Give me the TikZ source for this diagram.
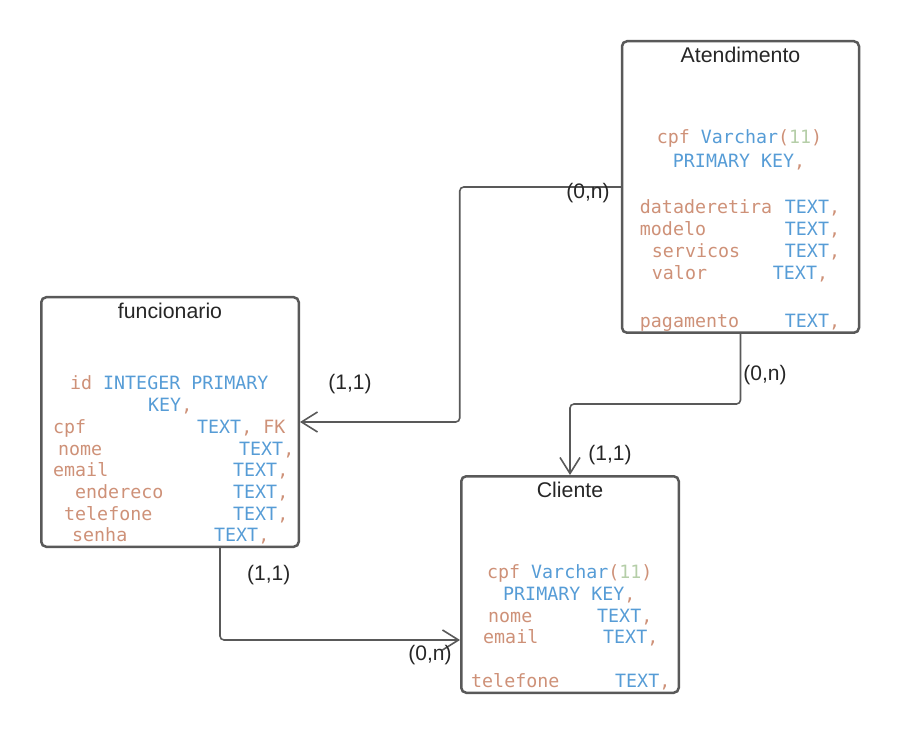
\documentclass[tikz,border=0pt]{standalone}
\usepackage{fontspec}
\setmainfont{Liberation Sans}
\setmonofont{DejaVu Sans Mono}
\usetikzlibrary{arrows.meta,positioning}

\definecolor{borda}{HTML}{595959}
\definecolor{nomecor}{HTML}{CE9178}
\definecolor{tipocor}{HTML}{569CD6}
\definecolor{numcor}{HTML}{B5CEA8}
\definecolor{titulocor}{HTML}{262626}

\newcommand\nm[1]{\textcolor{nomecor}{#1}}
\newcommand\kw[1]{\textcolor{tipocor}{#1}}
\newcommand\nr[1]{\textcolor{numcor}{#1}}
\newcommand\tx{\kw{TEXT}\nm{,}}
\newcommand\campo[4]{\rlap{\hspace*{#1pt}\nm{#2}}\hspace*{#3pt}#4}

\tikzset{
	tabela/.style={draw=borda, line width=2.5pt, rounded corners=5pt},
	titulo/.style={font=\fontsize{21.3}{25}\selectfont, text=titulocor, inner sep=0pt, anchor=base},
	codigo/.style={font=\ttfamily\fontsize{18.3}{22}\selectfont, inner sep=0pt, anchor=base west},
	conector/.style={draw=borda, line width=1.6pt, rounded corners=4pt, -{Straight Barb[length=16pt,width=20pt]}},
	card/.style={font=\fontsize{21}{25}\selectfont, text=titulocor, inner sep=0pt, anchor=base}
}

\begin{document}
\begin{tikzpicture}[x=1pt, y=-1pt]
		\useasboundingbox (0,0) rectangle (900,735);
		\node[tabela, minimum width=237pt, minimum height=291.5pt] (atendimento) at (740.5,187) {};
		\node[tabela, minimum width=257.5pt, minimum height=249.5pt] (funcionario) at (170,422) {};
		\node[tabela, minimum width=217.5pt, minimum height=216.5pt] (cliente) at (570,584.5) {};

		\node[titulo] (atendimento-titulo) at ([yshift=-22.5pt]atendimento.north) {Atendimento};
		\node[titulo] (funcionario-titulo) at ([yshift=-22.5pt]funcionario.north) {funcionario};
		\node[titulo] (cliente-titulo) at ([yshift=-22.5pt]cliente.north) {Cliente};

		\foreach \yy/\linha [count=\i] in {
				143.5/{\campo{36}{cpf}{80}{\kw{Varchar}\nm{(}\nr{11}\nm{)}}},
				168/{\campo{52}{}{52}{\kw{PRIMARY KEY}\nm{,}}},
				214/{\campo{19}{dataderetira}{164}{\tx}},
				235.7/{\campo{19}{modelo}{164}{\tx}},
				257.4/{\campo{31}{servicos}{164}{\tx}},
				279.1/{\campo{31}{valor}{152}{\tx}},
				328/{\campo{19}{pagamento}{164}{\tx}}}{
				\node[codigo] (atendimento-\i) at (atendimento.west |- 0,\yy) {\linha};
			}
		\foreach \yy/\linha [count=\i] in {
				390/{\campo{30}{id}{63}{\kw{INTEGER PRIMARY}}},
				411.7/{\campo{108}{}{108}{\kw{KEY}\nm{,}}},
				433.4/{\campo{13}{cpf}{157}{\kw{TEXT}\nm{, FK}}},
				455/{\campo{18}{nome}{199}{\tx}},
				476.8/{\campo{13}{email}{193}{\tx}},
				498.5/{\campo{35}{endereco}{193}{\tx}},
				520.2/{\campo{24}{telefone}{193}{\tx}},
				541.9/{\campo{32}{senha}{174}{\tx}}}{
				\node[codigo] (funcionario-\i) at (funcionario.west |- 0,\yy) {\linha};
			}
		\foreach \yy/\linha [count=\i] in {
				578.2/{\campo{27}{cpf}{71}{\kw{Varchar}\nm{(}\nr{11}\nm{)}}},
				600/{\campo{43}{}{43}{\kw{PRIMARY KEY}\nm{,}}},
				622/{\campo{28}{nome}{137}{\tx}},
				643.5/{\campo{23}{email}{143}{\tx}},
				687.2/{\campo{11}{telefone}{155}{\tx}}}{
				\node[codigo] (cliente-\i) at (cliente.west |- 0,\yy) {\linha};
			}

		\draw[conector] (atendimento.west) -- ++(-161,0) |- (funcionario.east);
		\draw[conector] (atendimento.south) -- ++(0,70) -| (cliente.north);
		\draw[conector] ([xshift=50pt]funcionario.south) |- ([yshift=-55.5pt]cliente.west);

		\node[card] (card-1) at (588,199) {(0,n)};
		\node[card] (card-2) at (350,390) {(1,1)};
		\node[card] (card-3) at (765,381) {(0,n)};
		\node[card] (card-4) at (610,460) {(1,1)};
		\node[card] (card-5) at (268.7,580) {(1,1)};
		\node[card] (card-6) at (430,660) {(0,n)};
	\end{tikzpicture}
\end{document}
